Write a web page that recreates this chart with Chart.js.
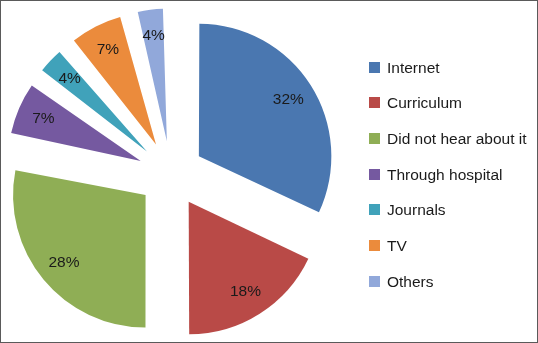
<!DOCTYPE html>
<html>
<head>
<meta charset="utf-8">
<script src="https://cdn.jsdelivr.net/npm/chart.js@4"></script>
<style>
  html, body { margin: 0; padding: 0; background: #fff; }
  #wrap { position: relative; width: 536px; height: 341px; border: 1px solid #5a5a5a; }
  #chart { position: absolute; left: 0; top: 0; }
  #legend { position: absolute; left: 368px; top: 0; font-family: "Liberation Sans", Arial, sans-serif; font-size: 15.5px; color: #1a1a1a; }
  .item { position: absolute; white-space: nowrap; height: 20px; line-height: 20px; }
  .box { position: absolute; left: 0; top: 4px; width: 11px; height: 11px; }
  .txt { position: absolute; left: 18px; top: 0; }
</style>
</head>
<body>
<div id="wrap">
  <canvas id="chart" width="536" height="341"></canvas>
  <div id="legend"></div>
</div>
<script>
const categories = ["Internet", "Curriculum", "Did not hear about it", "Through hospital", "Journals", "TV", "Others"];
const percentages = [32, 18, 28, 7, 4, 7, 4];
const sliceColors = ["#4a77b0", "#b94a47", "#8fae55", "#7559a0", "#40a2ba", "#eb8b3c", "#91a8da"];

const PIE_RADIUS = 132.5;
// Chart.js v4 draws an arc's offset at 1/4 of the option value
const EXPLODE = 33;

// v4 also grows narrow exploded arcs by offset*(1 - sin(angle)); undo that so all slices keep one radius
const keepRadius = {
  id: "keepRadius",
  afterDatasetUpdate(chart, args) {
    args.meta.data.forEach(arc => {
      const off = (arc.options.offset || 0) / 4;
      const circ = arc.endAngle - arc.startAngle;
      const fix = 1 - Math.sin(Math.min(Math.PI, circ));
      arc.outerRadius = PIE_RADIUS - off * fix;
    });
  }
};

// percentage labels inside each exploded slice
const sliceLabels = {
  id: "sliceLabels",
  afterDatasetsDraw(chart) {
    const ctx = chart.ctx;
    const meta = chart.getDatasetMeta(0);
    ctx.save();
    ctx.font = "15.5px 'Liberation Sans', Arial, sans-serif";
    ctx.fillStyle = "#1a1a1a";
    ctx.textAlign = "center";
    ctx.textBaseline = "middle";
    meta.data.forEach((arc, i) => {
      const mid = (arc.startAngle + arc.endAngle) / 2;
      const off = (arc.options.offset || 0) / 4;
      const r = off + PIE_RADIUS * 0.8;
      ctx.fillText(percentages[i] + "%", arc.x + Math.cos(mid) * r, arc.y + Math.sin(mid) * r);
    });
    ctx.restore();
  }
};

new Chart(document.getElementById("chart"), {
  type: "pie",
  data: {
    labels: categories,
    datasets: [{
      data: percentages,
      backgroundColor: sliceColors,
      borderWidth: 0,
      offset: EXPLODE * 4,
      hoverOffset: EXPLODE * 4
    }]
  },
  options: {
    responsive: false,
    animation: false,
    radius: PIE_RADIUS,
    layout: { padding: { left: 0, right: 196, top: 5, bottom: 0 } },
    plugins: {
      legend: { display: false },
      tooltip: { enabled: false }
    }
  },
  plugins: [keepRadius, sliceLabels]
});

// legend on the right
const legend = document.getElementById("legend");
const rowTops = 66.5, rowGap = 35.7;
categories.forEach((name, i) => {
  const item = document.createElement("div");
  item.className = "item";
  item.style.top = (rowTops + i * rowGap - 10) + "px";
  item.innerHTML = '<span class="box" style="background:' + sliceColors[i] + '"></span><span class="txt">' + name + '</span>';
  legend.appendChild(item);
});
</script>
</body>
</html>
